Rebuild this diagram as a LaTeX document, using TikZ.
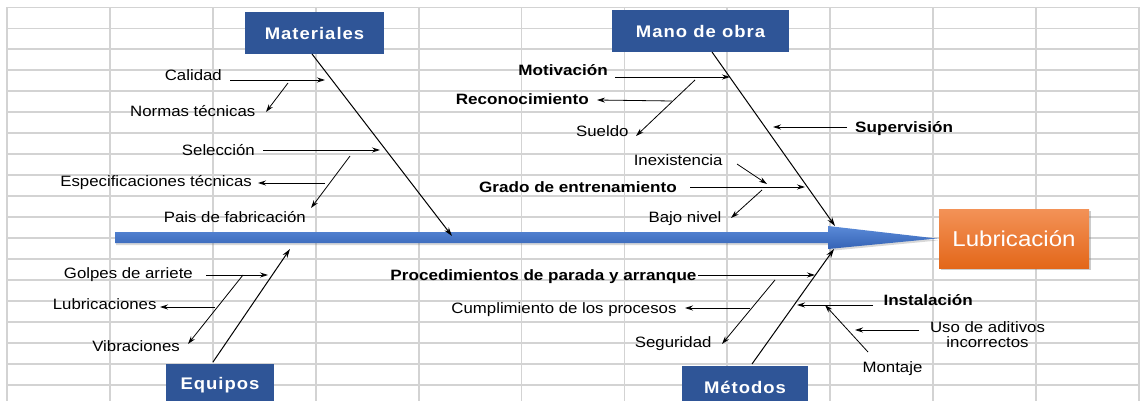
\documentclass[tikz,border=0pt]{standalone}
\usepackage{fontspec}
\setmainfont{Liberation Sans}[FakeStretch=1.12,BoldFeatures={FakeStretch=1.14}]
\newfontfamily\boxfont{Liberation Sans}[FakeStretch=1.1,LetterSpace=6]
\usetikzlibrary{arrows.meta,shadows}
\definecolor{gridgray}{HTML}{D3D3D3}
\definecolor{boxblue}{HTML}{2F5597}
\definecolor{spinetop}{HTML}{5A8AD8}
\definecolor{spinebot}{HTML}{3563B5}
\definecolor{lubtop}{HTML}{F39257}
\definecolor{lubbot}{HTML}{E3671A}
\begin{document}
\begin{tikzpicture}[x=1pt,y=-1pt,
  lbl/.style={inner sep=0pt,font=\fontsize{15}{17}\selectfont},
  blbl/.style={inner sep=0pt,font=\fontsize{15}{17}\selectfont\bfseries},
  catbox/.style={fill=boxblue,text=white,inner sep=0pt,minimum height=42pt,font=\boxfont\fontsize{16.8}{18}\selectfont\bfseries},
  arr/.style={-{Stealth[length=8pt,width=5pt]},line width=0.8pt},
  bone/.style={-{Stealth[length=9pt,width=5.5pt]},line width=1pt}]
\useasboundingbox (0,0) rectangle (1146,401);
% grid background
\begin{scope}
\clip (0,0) rectangle (1146,401);
\fill[white] (0,0) rectangle (1146,401);
\foreach \i in {0,...,11} \draw[gridgray,line width=1.8pt] ({7+102.9*\i},7.5) -- ({7+102.9*\i},401);
\foreach \j in {0,...,18} \draw[gridgray,line width=1.8pt] (7,{7.5+20.95*\j}) -- (1139,{7.5+20.95*\j});
\end{scope}

% category boxes
\node[catbox,minimum width=139pt] (mat) at (314.5,33) {Materiales};
\node[catbox,minimum width=177pt] (mano) at (700.5,31) {Mano de obra};
\node[catbox,minimum width=108pt] (equ) at (220,385) {Equipos};
\node[catbox,minimum width=126pt] (met) at (745,387) {Métodos};

% effect
\node[top color=lubtop,bottom color=lubbot,text=white,minimum width=150pt,minimum height=59pt,inner sep=0pt,
  font=\fontsize{21.5}{24}\selectfont,drop shadow={opacity=0.4,shadow xshift=1.5pt,shadow yshift=-2pt}] (lub) at (1014,238.5) {Lubricación};

% spine
\shade[top color=spinetop,bottom color=spinebot,drop shadow={opacity=0.3,shadow xshift=1pt,shadow yshift=-2pt}]
  (115,232) -- (828,232) -- (828,226) -- ([xshift=-2pt]lub.west) -- (828,249) -- (828,243) -- (115,243) -- cycle;

% labels - Materiales
\node[lbl,anchor=base east] (cal) at (222,81) {Calidad};
\node[lbl,anchor=base east] (nor) at (255.5,117) {Normas técnicas};
\node[lbl,anchor=base east] (sel) at (255,156) {Selección};
\node[lbl,anchor=base east] (esp) at (252,186) {Especificaciones técnicas};
\node[lbl,anchor=base east] (pai) at (306,222) {Pais de fabricación};
% labels - Equipos
\node[lbl,anchor=base east] (gol) at (193,278) {Golpes de arriete};
\node[lbl,anchor=base east] (lubr) at (156.7,309) {Lubricaciones};
\node[lbl,anchor=base east] (vib) at (180,351) {Vibraciones};
% labels - Mano de obra
\node[blbl,anchor=base east] (mot) at (608,76) {Motivación};
\node[blbl,anchor=base east] (rec) at (589,104.5) {Reconocimiento};
\node[lbl,anchor=base east] (sue) at (628.7,137) {Sueldo};
\node[blbl,anchor=base west] (sup) at (855,133) {Supervisión};
\node[lbl,anchor=base east] (ine) at (722.7,166) {Inexistencia};
\node[blbl,anchor=base east] (gra) at (677,192) {Grado de entrenamiento};
\node[lbl,anchor=base east] (baj) at (721.7,222) {Bajo nivel};
% labels - Metodos
\node[blbl,anchor=base east] (pro) at (696.7,280) {Procedimientos de parada y arranque};
\node[lbl,anchor=base east] (cum) at (676.7,313) {Cumplimiento de los procesos};
\node[lbl,anchor=base east] (seg) at (711.7,347) {Seguridad};
\node[blbl,anchor=base west] (ins) at (883.3,305) {Instalación};
\node[lbl,align=center,font=\fontsize{15}{14.5}\selectfont] (uso) at (987.5,334.5) {Uso de aditivos\\incorrectos};
\node[lbl,anchor=base] (mon) at (892.5,372) {Montaje};

% connector end points
\coordinate (matA) at (312,54);   \coordinate (matB) at (452,236);
\coordinate (manA) at (712,52);   \coordinate (manB) at (835,226);
\coordinate (equA) at (213,362);  \coordinate (equB) at (290,249);
\coordinate (metA) at (752,364);  \coordinate (metB) at (834,249);

\coordinate (c1a) at (230,80);  \coordinate (c1b) at (325,80);
\coordinate (c2a) at (288,83);  \coordinate (c2b) at (266,112);
\coordinate (c3a) at (263,150); \coordinate (c3b) at (380,150);
\coordinate (c4a) at (325,183); \coordinate (c4b) at (258,183);
\coordinate (c5a) at (350,156); \coordinate (c5b) at (311,208);

\coordinate (e1a) at (206,275); \coordinate (e1b) at (268,275);
\coordinate (e2a) at (243,275); \coordinate (e2b) at (188,344);
\coordinate (e3a) at (215,307); \coordinate (e3b) at (160,307);

\coordinate (m1a) at (615,77);  \coordinate (m1b) at (730,77);
\coordinate (m2a) at (695,80);  \coordinate (m2b) at (636,136);
\coordinate (m3a) at (672,101); \coordinate (m3b) at (597,100);
\coordinate (m4a) at (847,127); \coordinate (m4b) at (773,127);
\coordinate (m5a) at (737,164); \coordinate (m5b) at (767,184);
\coordinate (m6a) at (690,187); \coordinate (m6b) at (805,187);
\coordinate (m7a) at (762,190); \coordinate (m7b) at (731,218);

\coordinate (t1a) at (698,275); \coordinate (t1b) at (815,275);
\coordinate (t2a) at (775,280); \coordinate (t2b) at (722,344);
\coordinate (t3a) at (750,308); \coordinate (t3b) at (685,308);
\coordinate (t4a) at (873,305); \coordinate (t4b) at (797,305);
\coordinate (t5a) at (919,330); \coordinate (t5b) at (855,330);
\coordinate (t6a) at (868,352); \coordinate (t6b) at (825,305);

% bones
\draw[bone] (matA) -- (matB);
\draw[bone] (manA) -- (manB);
\draw[bone] (equA) -- (equB);
\draw[bone] (metA) -- (metB);

% sub-causes
\foreach \p in {c1,c2,c3,c4,c5,e1,e2,e3,m1,m2,m3,m4,m5,m6,m7,t1,t2,t3,t4,t5,t6}
  \draw[arr] (\p a) -- (\p b);
\end{tikzpicture}
\end{document}
